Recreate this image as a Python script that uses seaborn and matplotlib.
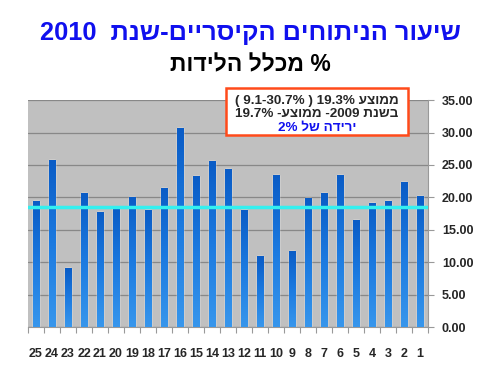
# שיעור ניתוחים קיסריים לפי בית חולים - 2010

import numpy as np
import pandas as pd
import matplotlib
matplotlib.use('Agg')
import matplotlib.pyplot as plt
from matplotlib.colors import LinearSegmentedColormap
import seaborn as sns

# Bloco 1: dados (בית חולים 1..25, אחוז ניתוחים קיסריים)
bet_holim = [str(i) for i in range(1, 26)]
shiur = [20.2, 22.3, 19.4, 19.2, 16.5, 23.5, 20.6, 19.9, 11.7, 23.5,
         10.9, 18.1, 24.3, 25.6, 23.3, 30.7, 21.5, 18.1, 20.1, 18.4,
         17.8, 20.6, 9.1, 25.8, 19.4]
kav_memutza = 18.5

df = pd.DataFrame({'bet_holim': bet_holim, 'shiur': shiur})
seder = bet_holim[::-1]  # 25 משמאל, 1 מימין


def rtl(s):
    # matplotlib nao faz bidi: inverte o texto hebraico manualmente
    return s[::-1]


# Bloco 2: estilo
sns.set_theme(style='white')
plt.rcParams['font.family'] = ['Liberation Sans', 'DejaVu Sans']

fig = plt.figure(figsize=(5, 3.75), dpi=100)
ax = fig.add_axes([0.056, 0.128, 0.80, 0.605])
ax.set_facecolor('#C0C0C0')

sns.barplot(data=df, x='bet_holim', y='shiur', order=seder, color='#1874D8',
            width=0.4, saturation=1, ax=ax, zorder=3)

# degrade azul nas barras
cmap = LinearSegmentedColormap.from_list('azul', ['#3796EC', '#1C7AE0', '#0A5CC6'])
grad = np.linspace(0, 1, 64).reshape(-1, 1)
for bar in ax.patches:
    x0, y0 = bar.get_x(), bar.get_y()
    w, h = bar.get_width(), bar.get_height()
    im = ax.imshow(grad, cmap=cmap, extent=[x0, x0 + w, y0, y0 + h],
                   aspect='auto', origin='lower', zorder=3.5)
    im.set_clip_path(bar)

# linha da media
ax.axhline(kav_memutza, color='#33F0F0', lw=2.5, zorder=4)

# eixos
ax.set_xlim(-0.5, 24.5)
ax.set_ylim(0, 35)
ax.set_yticks(np.arange(0, 36, 5))
ax.set_yticklabels([f'{v:.2f}' for v in np.arange(0, 36, 5)])
ax.yaxis.tick_right()
ax.grid(axis='y', color='#888888', lw=0.9, zorder=0)
ax.set_axisbelow(True)
ax.set_xlabel('')
ax.set_ylabel('')

for lado in ['top', 'left']:
    ax.spines[lado].set_visible(False)
for lado in ['bottom', 'right']:
    ax.spines[lado].set_color('#999999')
    ax.spines[lado].set_linewidth(0.8)

ax.tick_params(axis='y', right=True, length=4, color='#999999', width=0.8,
               labelsize=9, pad=6)
ax.tick_params(axis='x', bottom=False, labelsize=9, pad=9)
ax.set_xticks(np.arange(-0.5, 25, 1), minor=True)
ax.tick_params(axis='x', which='minor', bottom=True, length=4, color='#999999', width=0.8)
for t in ax.get_xticklabels() + ax.get_yticklabels():
    t.set_fontweight('bold')

# Bloco 3: titulos
fig.text(0.50, 0.912, '2010  ' + rtl('שיעור הניתוחים הקיסריים-שנת'),
         ha='center', va='center', fontsize=18.3, fontweight='bold', color='#1010EE')
fig.text(0.50, 0.827, rtl('% מכלל הלידות'),
         ha='center', va='center', fontsize=16.5, fontweight='bold', color='black')

# caixa de anotacao
caixa = plt.Rectangle((0.452, 0.64), 0.364, 0.125, transform=fig.transFigure,
                      facecolor='white', edgecolor='#FF4A1A', lw=1.8, zorder=5)
fig.patches.append(caixa)
fig.text(0.634, 0.731, '( 9.1-30.7% ) 19.3% ' + rtl('ממוצע'),
         ha='center', va='center', fontsize=9.7, fontweight='bold', zorder=6)
fig.text(0.634, 0.696, '19.7% -' + rtl('ממוצע') + ' -2009 ' + rtl('בשנת'),
         ha='center', va='center', fontsize=9.7, fontweight='bold', zorder=6)
fig.text(0.634, 0.659, '2% ' + rtl('של') + ' ' + rtl('ירידה'),
         ha='center', va='center', fontsize=9.7, fontweight='bold', color='#1010EE', zorder=6)

plt.savefig('out.png', dpi=100)
